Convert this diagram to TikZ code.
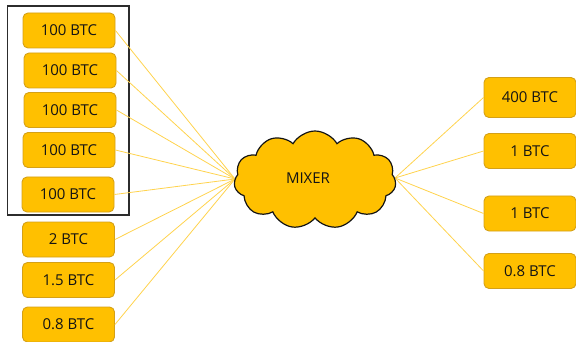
\documentclass[tikz,border=0pt]{standalone}
\usepackage{fontspec}
\setmainfont{Open Sans}
\usetikzlibrary{shapes.symbols}
\definecolor{gold}{HTML}{FFC000}
\definecolor{goldedge}{HTML}{D4A017}
\definecolor{wire}{HTML}{FFD34D}
\definecolor{ink}{HTML}{141414}
\tikzset{
  coin/.style={draw=goldedge, line width=0.9pt, fill=gold, rounded corners=5pt,
    minimum width=92pt, minimum height=35pt, inner sep=0pt, text=ink,
    font=\fontsize{15}{17}\selectfont},
  wireline/.style={draw=wire, line width=0.8pt},
}
\begin{document}
\begin{tikzpicture}[x=1pt,y=-1pt]
\useasboundingbox (0,0) rectangle (576,342);
% group frame around the five large inputs
\draw[line width=1.3pt, draw=ink!90] (7.5,6) rectangle (129,215);

% inputs
\node[coin] (i1) at (69,30.5) {100 BTC};
\node[coin] (i2) at (70,70.5) {100 BTC};
\node[coin] (i3) at (70,110) {100 BTC};
\node[coin] (i4) at (69,150) {100 BTC};
\node[coin] (i5) at (68,194.5) {100 BTC};
\node[coin] (i6) at (68.5,239.5) {2 BTC};
\node[coin] (i7) at (68.5,280) {1.5 BTC};
\node[coin] (i8) at (68.5,324.5) {0.8 BTC};

% outputs
\node[coin, minimum height=40pt] (o1) at (530,97.5) {400 BTC};
\node[coin] (o2) at (530,151) {1 BTC};
\node[coin] (o3) at (530,213.5) {1 BTC};
\node[coin] (o4) at (530,271) {0.8 BTC};

% the mixer
\coordinate (inpt) at (235,179);
\coordinate (outpt) at (395,178);
\foreach \n in {1,...,8} \draw[wireline] (i\n.east) -- (inpt);
\foreach \n in {1,...,4} \draw[wireline] (outpt) -- (o\n.west);
\node[cloud, cloud puffs=11, cloud puff arc=120, aspect=1.65, draw=ink, line width=1.2pt,
  fill=gold, minimum width=162pt, minimum height=98pt, inner sep=0pt] (mix) at (315,180) {};
\node[text=ink, font=\fontsize{15}{17}\selectfont] (mixlabel) at (308,178) {MIXER};
\end{tikzpicture}
\end{document}
